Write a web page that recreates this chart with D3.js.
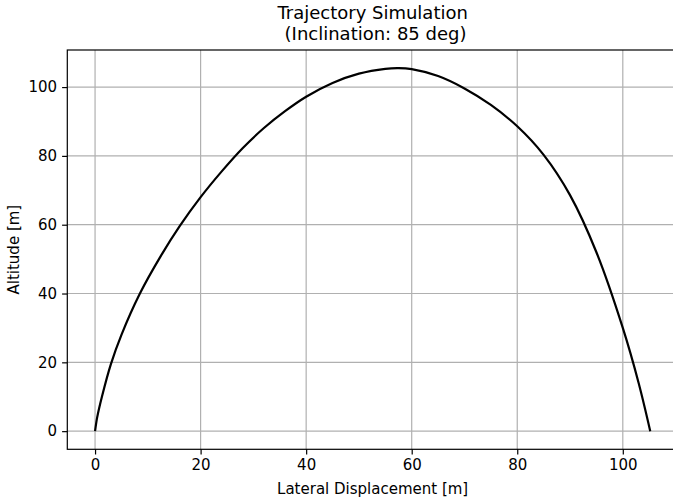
<!DOCTYPE html>
<html>
<head>
<meta charset="utf-8">
<script src="https://cdn.jsdelivr.net/npm/d3@7"></script>
<style>
  html, body { margin: 0; padding: 0; background: #fff; }
  svg { display: block; font-family: "DejaVu Sans", sans-serif; }
</style>
</head>
<body>
<svg id="chart" width="673" height="500"></svg>
<script>
// ---- data ----
const lateral = [0, 0.4, 1.3, 3, 5, 8.5, 12.5, 16, 20, 24, 28, 32, 36, 40, 45, 50, 55, 57.5, 60, 65, 70, 75, 80, 85, 90, 95, 100, 103, 105.2];
const altitude = [0, 4.0, 10, 19.5, 28, 40, 51, 59.5, 68, 75.5, 82.3, 88.1, 93, 97.2, 101.2, 103.9, 105.3, 105.5, 105.2, 103.2, 99.6, 94.8, 88.6, 80.3, 68.6, 52, 30, 14, 0];
const xTicks = [0, 20, 40, 60, 80, 100];
const yTicks = [0, 20, 40, 60, 80, 100];
const titleLines = ["Trajectory Simulation", " (Inclination: 85 deg)"];
const xLabel = "Lateral Displacement [m]";
const yLabel = "Altitude [m]";

const points = lateral.map((v, i) => ({ x: v, y: altitude[i] }));

const svg = d3.select("#chart");
const pLeft = 67.3, pTop = 50, pBottom = 449.3, pRight = 678;

const xExt = d3.extent(lateral), yExt = d3.extent(altitude);
const xm = (xExt[1] - xExt[0]) * 0.05, ym = (yExt[1] - yExt[0]) * 0.05;
const x = d3.scaleLinear().domain([xExt[0] - xm, xExt[1] + xm]).range([pLeft, pRight]);
const y = d3.scaleLinear().domain([yExt[0] - ym, yExt[1] + ym]).range([pBottom, pTop]);

const gridColor = "#b0b0b0";

// grid
const grid = svg.append("g");
grid.selectAll("line.vx").data(xTicks).enter().append("line")
  .attr("x1", d => x(d)).attr("x2", d => x(d)).attr("y1", pTop).attr("y2", pBottom)
  .attr("stroke", gridColor).attr("stroke-width", 1.2);
grid.selectAll("line.hy").data(yTicks).enter().append("line")
  .attr("y1", d => y(d)).attr("y2", d => y(d)).attr("x1", pLeft).attr("x2", pRight)
  .attr("stroke", gridColor).attr("stroke-width", 1.2);

// curve
const line = d3.line().x(d => x(d.x)).y(d => y(d.y)).curve(d3.curveCatmullRom.alpha(0.5));
svg.append("path").datum(points).attr("d", line)
  .attr("fill", "none").attr("stroke", "#000").attr("stroke-width", 2.2)
  .attr("stroke-linejoin", "round").attr("stroke-linecap", "butt");

// axes
const xAxis = d3.axisBottom(x).tickValues(xTicks).tickSize(5.2).tickPadding(5).tickSizeOuter(0).tickFormat(d3.format("d"));
const yAxis = d3.axisLeft(y).tickValues(yTicks).tickSize(5.2).tickPadding(5).tickSizeOuter(0).tickFormat(d3.format("d"));

const gx = svg.append("g").attr("transform", `translate(0,${pBottom})`).call(xAxis);
const gy = svg.append("g").attr("transform", `translate(${pLeft},0)`).call(yAxis);
[gx, gy].forEach(g => {
  g.select(".domain").remove();
  g.selectAll(".tick line").attr("stroke", "#000").attr("stroke-width", 1.2);
  g.selectAll(".tick text").attr("fill", "#000").style("font-size", "15px").style("font-family", "DejaVu Sans");
});

// frame (spines)
svg.append("rect").attr("x", pLeft).attr("y", pTop).attr("width", pRight - pLeft).attr("height", pBottom - pTop)
  .attr("fill", "none").attr("stroke", "#000").attr("stroke-width", 1.2);

// labels
svg.append("text").attr("x", (pLeft + pRight) / 2).attr("y", 494)
  .attr("text-anchor", "middle").style("font-size", "15px").text(xLabel);
svg.append("text").attr("transform", `translate(19,${(pTop + pBottom) / 2}) rotate(-90)`)
  .attr("text-anchor", "middle").style("font-size", "15px").text(yLabel);

// title
const tt = svg.append("text").attr("text-anchor", "middle").style("font-size", "18px");
titleLines.forEach((t, i) => {
  tt.append("tspan").attr("x", (pLeft + pRight) / 2).attr("y", 19 + i * 21).attr("xml:space", "preserve").text(t);
});
</script>
</body>
</html>
